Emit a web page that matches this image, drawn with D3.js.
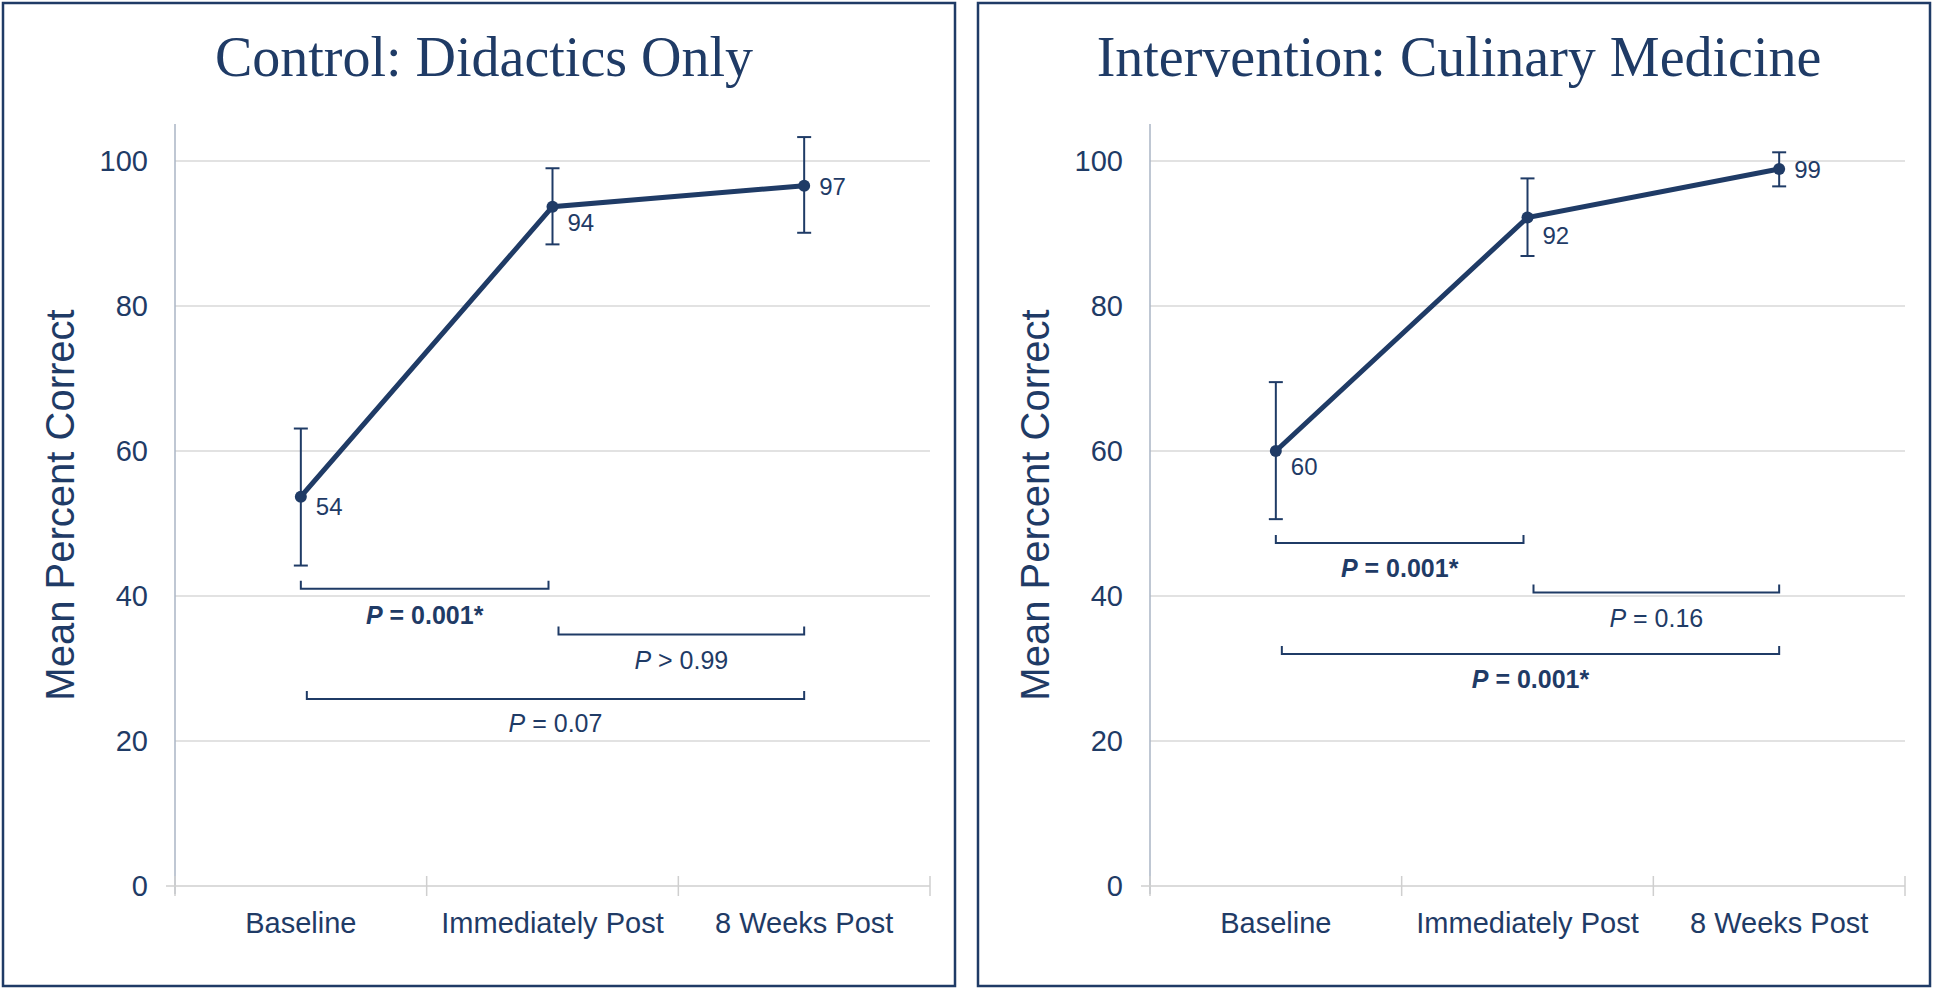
<!DOCTYPE html>
<html><head><meta charset="utf-8">
<script src="https://d3js.org/d3.v7.min.js"></script>
<style>body{margin:0;background:#fff}text{font-family:"Liberation Sans",Arial,sans-serif}</style>
</head><body><div id="chart"></div>
<script>
var categories = ["Baseline", "Immediately Post", "8 Weeks Post"];
var yTicks = [0, 20, 40, 60, 80, 100];
var titles = ["Control: Didactics Only", "Intervention: Culinary Medicine"];
var controlMeans = [53.7, 93.7, 96.6];
var controlHi = [63.1, 99.0, 103.3];
var controlLo = [44.2, 88.5, 90.1];
var controlLabels = ["54", "94", "97"];
var interMeans = [60.0, 92.2, 98.9];
var interHi = [69.5, 97.6, 101.2];
var interLo = [50.6, 86.9, 96.5];
var interLabels = ["60", "92", "99"];
// brackets: [from, to, level, text, significant, label level]
var controlBrackets = [[0, 1, 41.0, "= 0.001*", true, 37.4], [1, 2, 34.7, "> 0.99", false, 31.2], [0, 2, 25.8, "= 0.07", false, 22.5]];
var interBrackets = [[0, 1, 47.3, "= 0.001*", true, 43.8], [1, 2, 40.5, "= 0.16", false, 37.0], [0, 2, 32.0, "= 0.001*", true, 28.6]];

var navy = "#1f3b66";
var W = 1935, H = 991;
var svg = d3.select("#chart").append("svg").attr("width", W).attr("height", H);

function panel(ox, title, means, hi, lo, labels, brackets, lblPos) {
    var g = svg.append("g").attr("transform", "translate(" + ox + ",0)");
    g.append("rect").attr("x", 3).attr("y", 3).attr("width", 952).attr("height", 983)
        .attr("fill", "none").attr("stroke", navy).attr("stroke-width", 2.5);
    g.append("text").attr("x", 484).attr("y", 76).attr("text-anchor", "middle")
        .style("font-family", "'Liberation Serif','DejaVu Serif',serif").style("font-size", "56px")
        .attr("fill", navy).text(title);

    var x = d3.scaleBand().domain(categories).range([175, 930]);
    var y = d3.scaleLinear().domain([0, 100]).range([886, 161]);
    var cx = function (i) { return x(categories[i]) + x.bandwidth() / 2; };

    g.selectAll(".grid").data(yTicks.slice(1)).enter().append("line")
        .attr("x1", 175).attr("x2", 930).attr("y1", function (d) { return y(d); }).attr("y2", function (d) { return y(d); })
        .attr("stroke", "#d9d9d9").attr("stroke-width", 1.5);
    g.append("line").attr("x1", 175).attr("x2", 175).attr("y1", 124).attr("y2", 894).attr("stroke", "#aab4c4").attr("stroke-width", 1.5);
    g.append("line").attr("x1", 166).attr("x2", 930).attr("y1", 886).attr("y2", 886).attr("stroke", "#cfcfcf").attr("stroke-width", 1.5);
    x.domain().concat(["end"]).forEach(function (c, i) {
        var t = 175 + i * x.bandwidth();
        g.append("line").attr("x1", t).attr("x2", t).attr("y1", 876).attr("y2", 896).attr("stroke", "#cfcfcf").attr("stroke-width", 1.5);
    });
    g.selectAll(".yt").data(yTicks).enter().append("text")
        .attr("x", 148).attr("y", function (d) { return y(d) + 10; }).attr("text-anchor", "end")
        .style("font-size", "29px").attr("fill", navy).text(function (d) { return d; });
    g.selectAll(".xt").data(categories).enter().append("text")
        .attr("x", function (d) { return x(d) + x.bandwidth() / 2; }).attr("y", 933).attr("text-anchor", "middle")
        .style("font-size", "29px").attr("fill", navy).text(function (d) { return d; });
    g.append("text").attr("transform", "translate(74,505) rotate(-90)").attr("text-anchor", "middle")
        .style("font-size", "40px").attr("fill", navy).text("Mean Percent Correct");

    means.forEach(function (m, i) {
        g.append("line").attr("x1", cx(i)).attr("x2", cx(i)).attr("y1", y(hi[i])).attr("y2", y(lo[i])).attr("stroke", navy).attr("stroke-width", 2);
        [hi[i], lo[i]].forEach(function (v) {
            g.append("line").attr("x1", cx(i) - 7).attr("x2", cx(i) + 7).attr("y1", y(v)).attr("y2", y(v)).attr("stroke", navy).attr("stroke-width", 2);
        });
    });
    var line = d3.line().x(function (d, i) { return cx(i); }).y(function (d) { return y(d); });
    g.append("path").datum(means).attr("d", line).attr("fill", "none").attr("stroke", navy).attr("stroke-width", 5);
    g.selectAll(".pt").data(means).enter().append("circle")
        .attr("cx", function (d, i) { return cx(i); }).attr("cy", function (d) { return y(d); }).attr("r", 6).attr("fill", navy);
    g.selectAll(".lbl").data(means).enter().append("text")
        .attr("x", function (d, i) { return cx(i) + 15; })
        .attr("y", function (d, i) { return y(d) + lblPos[i]; })
        .style("font-size", "24px").attr("fill", navy).text(function (d, i) { return labels[i]; });

    brackets.forEach(function (b) {
        var x1 = cx(b[0]) + (b[0] === 0 && b[1] === 2 ? 6 : 0) + (b[0] === 1 ? 6 : 0), x2 = cx(b[1]) - (b[0] === 0 && b[1] === 1 ? 4 : 0);
        var yy = y(b[2]);
        g.append("path").attr("d", "M" + x1 + "," + (yy - 8) + "V" + yy + "H" + x2 + "V" + (yy - 8))
            .attr("fill", "none").attr("stroke", navy).attr("stroke-width", 2);
        var t = g.append("text").attr("x", (x1 + x2) / 2).attr("y", y(b[5]) + 9).attr("text-anchor", "middle")
            .style("font-size", "25px").style("font-weight", b[4] ? "bold" : "normal").attr("fill", navy);
        t.append("tspan").style("font-style", "italic").text("P");
        t.append("tspan").text(" " + b[3]);
    });
}

panel(0, titles[0], controlMeans, controlHi, controlLo, controlLabels, controlBrackets, [18, 24, 9]);
panel(975, titles[1], interMeans, interHi, interLo, interLabels, interBrackets, [24, 26, 9]);
</script></body></html>
